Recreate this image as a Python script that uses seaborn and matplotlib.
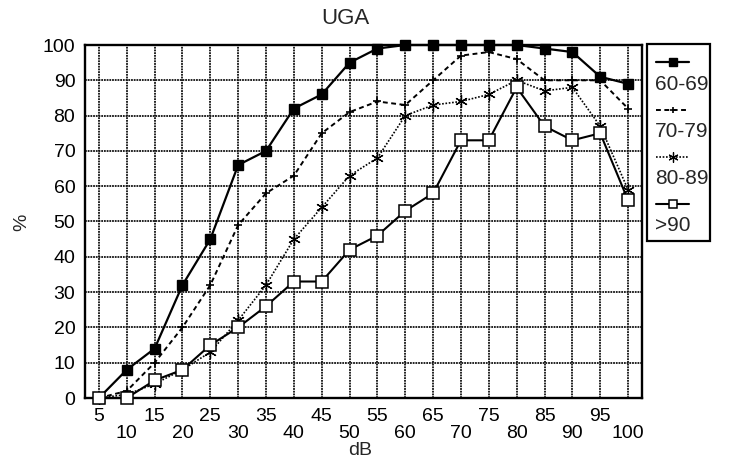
import matplotlib
matplotlib.use("Agg")
import matplotlib.pyplot as plt
from matplotlib.lines import Line2D
from matplotlib.patches import Rectangle
import seaborn as sns
import pandas as pd

db = [5, 10, 15, 20, 25, 30, 35, 40, 45, 50, 55, 60, 65, 70, 75, 80, 85, 90, 95, 100]
s_60_69 = [0, 8, 14, 32, 45, 66, 70, 82, 86, 95, 99, 100, 100, 100, 100, 100, 99, 98, 91, 89]
s_70_79 = [0, 2, 10, 20, 32, 49, 58, 63, 75, 81, 84, 83, 90, 97, 98, 96, 90, 90, 90, 82]
s_80_89 = [0, 1, 4, 8, 13, 22, 32, 45, 54, 63, 68, 80, 83, 84, 86, 90, 87, 88, 77, 59]
s_90 = [0, 0, 5, 8, 15, 20, 26, 33, 33, 42, 46, 53, 58, 73, 73, 88, 77, 73, 75, 56]
series_names = ["60-69", "70-79", "80-89", ">90"]
yticks = list(range(0, 101, 10))

sns.set_theme(style="white")
plt.rcParams['font.family'] = ['Liberation Sans', 'DejaVu Sans']

W, H = 742, 461
fig = plt.figure(figsize=(W / 100, H / 100), dpi=100)
ax = fig.add_axes([85 / W, 1 - 398 / H, (642 - 85) / W, (398 - 45) / H])

styles = {
    "60-69": dict(color="black", lw=1.6, ls="-", marker="s", ms=7, mfc="black", mec="black", mew=1.0),
    "70-79": dict(color="black", lw=1.4, ls=(0, (2.5, 1.8)), marker="+", ms=6, mfc="black", mec="black", mew=1.2),
    "80-89": dict(color="black", lw=1.2, ls=(0, (1, 1)), marker=(6, 2, 0), ms=9, mfc="black", mec="black", mew=0.9),
    ">90": dict(color="black", lw=1.5, ls="-", marker="s", ms=8, mfc="white", mec="black", mew=1.1),
}
data = {"60-69": s_60_69, "70-79": s_70_79, "80-89": s_80_89, ">90": s_90}

for name in series_names:
    df = pd.DataFrame({"dB": db, "pct": data[name]})
    st = styles[name]
    sns.lineplot(data=df, x="dB", y="pct", ax=ax, color=st["color"], linewidth=st["lw"],
                 linestyle=st["ls"], marker=st["marker"], markersize=st["ms"],
                 markerfacecolor=st["mfc"], markeredgecolor=st["mec"], markeredgewidth=st["mew"],
                 legend=False, zorder=3, clip_on=False)

ax.set_xlim(2.5, 102.5)
ax.set_ylim(0, 100)
ax.set_xticks(db)
ax.set_xticklabels([str(v) if i % 2 == 0 else "\n" + str(v) for i, v in enumerate(db)],
                   fontsize=14, linespacing=1.05)
ax.set_yticks(yticks)
ax.set_yticklabels([str(v) for v in yticks], fontsize=14)
ax.tick_params(axis="both", direction="out", length=5, width=1.2, color="black", pad=2, labelcolor="black")
ax.grid(True, color="#111111", linewidth=1.3, linestyle=(0, (1, 0.5)))
ax.set_axisbelow(True)
for sp in ax.spines.values():
    sp.set_color("black")
    sp.set_linewidth(1.7)
ax.set_xlabel("")
ax.set_ylabel("")

fig.text(345 / W, 1 - 18 / H, "UGA", ha="center", va="center", fontsize=16)
fig.text(22 / W, 1 - 222 / H, "%", ha="center", va="center", fontsize=14, rotation=90)
fig.text(360 / W, 1 - 459 / H, "dB", ha="center", va="bottom", fontsize=14)

# legend box drawn in figure coordinates
def fx(px):
    return px / W

def fy(py):
    return 1 - py / H

fig.add_artist(Rectangle((fx(647), fy(241)), fx(710) - fx(647), fy(44) - fy(241),
                         transform=fig.transFigure, fill=False, edgecolor="black", linewidth=1.6))
line_y = [62, 110, 157, 204]
text_y = [84, 131, 178, 225]
for name, ly, ty in zip(series_names, line_y, text_y):
    st = styles[name]
    fig.add_artist(Line2D([fx(656), fx(689)], [fy(ly), fy(ly)], transform=fig.transFigure,
                          color=st["color"], linewidth=st["lw"], linestyle=st["ls"]))
    fig.add_artist(Line2D([fx(672.5)], [fy(ly)], transform=fig.transFigure, linestyle="none",
                          marker=st["marker"], markersize=st["ms"] * 0.8, markerfacecolor=st["mfc"],
                          markeredgecolor=st["mec"], markeredgewidth=st["mew"]))
    fig.text(fx(655), fy(ty), name, ha="left", va="center", fontsize=15)

fig.savefig("out.png", dpi=100)
